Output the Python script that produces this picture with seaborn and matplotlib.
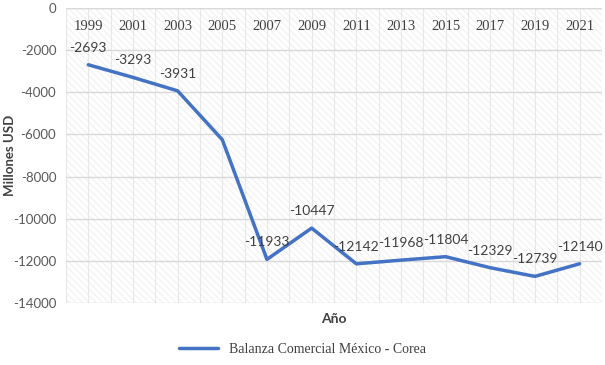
import numpy as np
import pandas as pd
import seaborn as sns
import matplotlib.pyplot as plt

years = ['1999', '2001', '2003', '2005', '2007', '2009', '2011', '2013', '2015', '2017', '2019', '2021']
balanza = [-2693, -3293, -3931, -6250, -11933, -10447, -12142, -11968, -11804, -12329, -12739, -12140]
labeled = [True, True, True, False, True, True, True, True, True, True, True, True]

df = pd.DataFrame({'Año': years, 'Balanza': balanza})

sns.set_style('white')
plt.rcParams['font.family'] = ['Lato', 'DejaVu Sans']
plt.rcParams['axes.unicode_minus'] = False
plt.rcParams['hatch.linewidth'] = 0.6

fig = plt.figure(figsize=(6.05, 3.65), dpi=100)
ax = fig.add_axes([0.109, 0.170, 0.886, 0.808])

ax.patch.set_facecolor('white')
ax.patch.set_hatch('\\\\\\\\\\')
ax.patch.set_edgecolor('#ededed')
ax.patch.set_linewidth(0)

sns.lineplot(data=df, x='Año', y='Balanza', color='#4472C4', linewidth=2.5,
             sort=False, ax=ax, label='Balanza Comercial México - Corea')

for i, (v, show) in enumerate(zip(balanza, labeled)):
    if show:
        ax.annotate(str(v), (i, v), xytext=(0, 8), textcoords='offset points',
                    ha='center', va='bottom', fontsize=10, color='#404040')

ax.set_ylim(-14000, 0)
ax.set_yticks(np.arange(-14000, 1, 2000))
ax.set_xlim(-0.5, len(years) - 0.5)
ax.set_xticks(range(len(years)))
ax.set_xticklabels(years, family=['Liberation Serif', 'DejaVu Serif'], fontsize=10.5, color='#404040')
ax.set_xticks(np.arange(-0.5, len(years), 1), minor=True)

ax.tick_params(axis='x', which='both', bottom=False, top=False, labelbottom=False,
               labeltop=True, pad=-18, length=0)
ax.tick_params(axis='y', length=0, labelsize=9.5, labelcolor='#595959', pad=7)

ax.grid(True, axis='y', color='#d9d9d9', linewidth=1)
ax.grid(True, axis='x', which='both', color='#e8e8e8', linewidth=0.8)
ax.set_axisbelow(True)
for s in ax.spines.values():
    s.set_visible(False)
ax.axhline(0, color='#d9d9d9', linewidth=1)

ax.set_ylabel('Millones USD', fontsize=9.5, fontweight='bold', color='#404040')
ax.yaxis.set_label_coords(-0.094, 0.5)
ax.set_xlabel('Año', fontsize=10, fontweight='bold', color='#404040', labelpad=7)

ax.legend_.remove()
leg = fig.legend(loc='lower center', bbox_to_anchor=(0.5, -0.01), frameon=False,
                 prop={'family': ['Liberation Serif', 'DejaVu Serif'], 'size': 10},
                 handlelength=2.8)
for t in leg.get_texts():
    t.set_color('#404040')

fig.savefig('out.png', dpi=100)
